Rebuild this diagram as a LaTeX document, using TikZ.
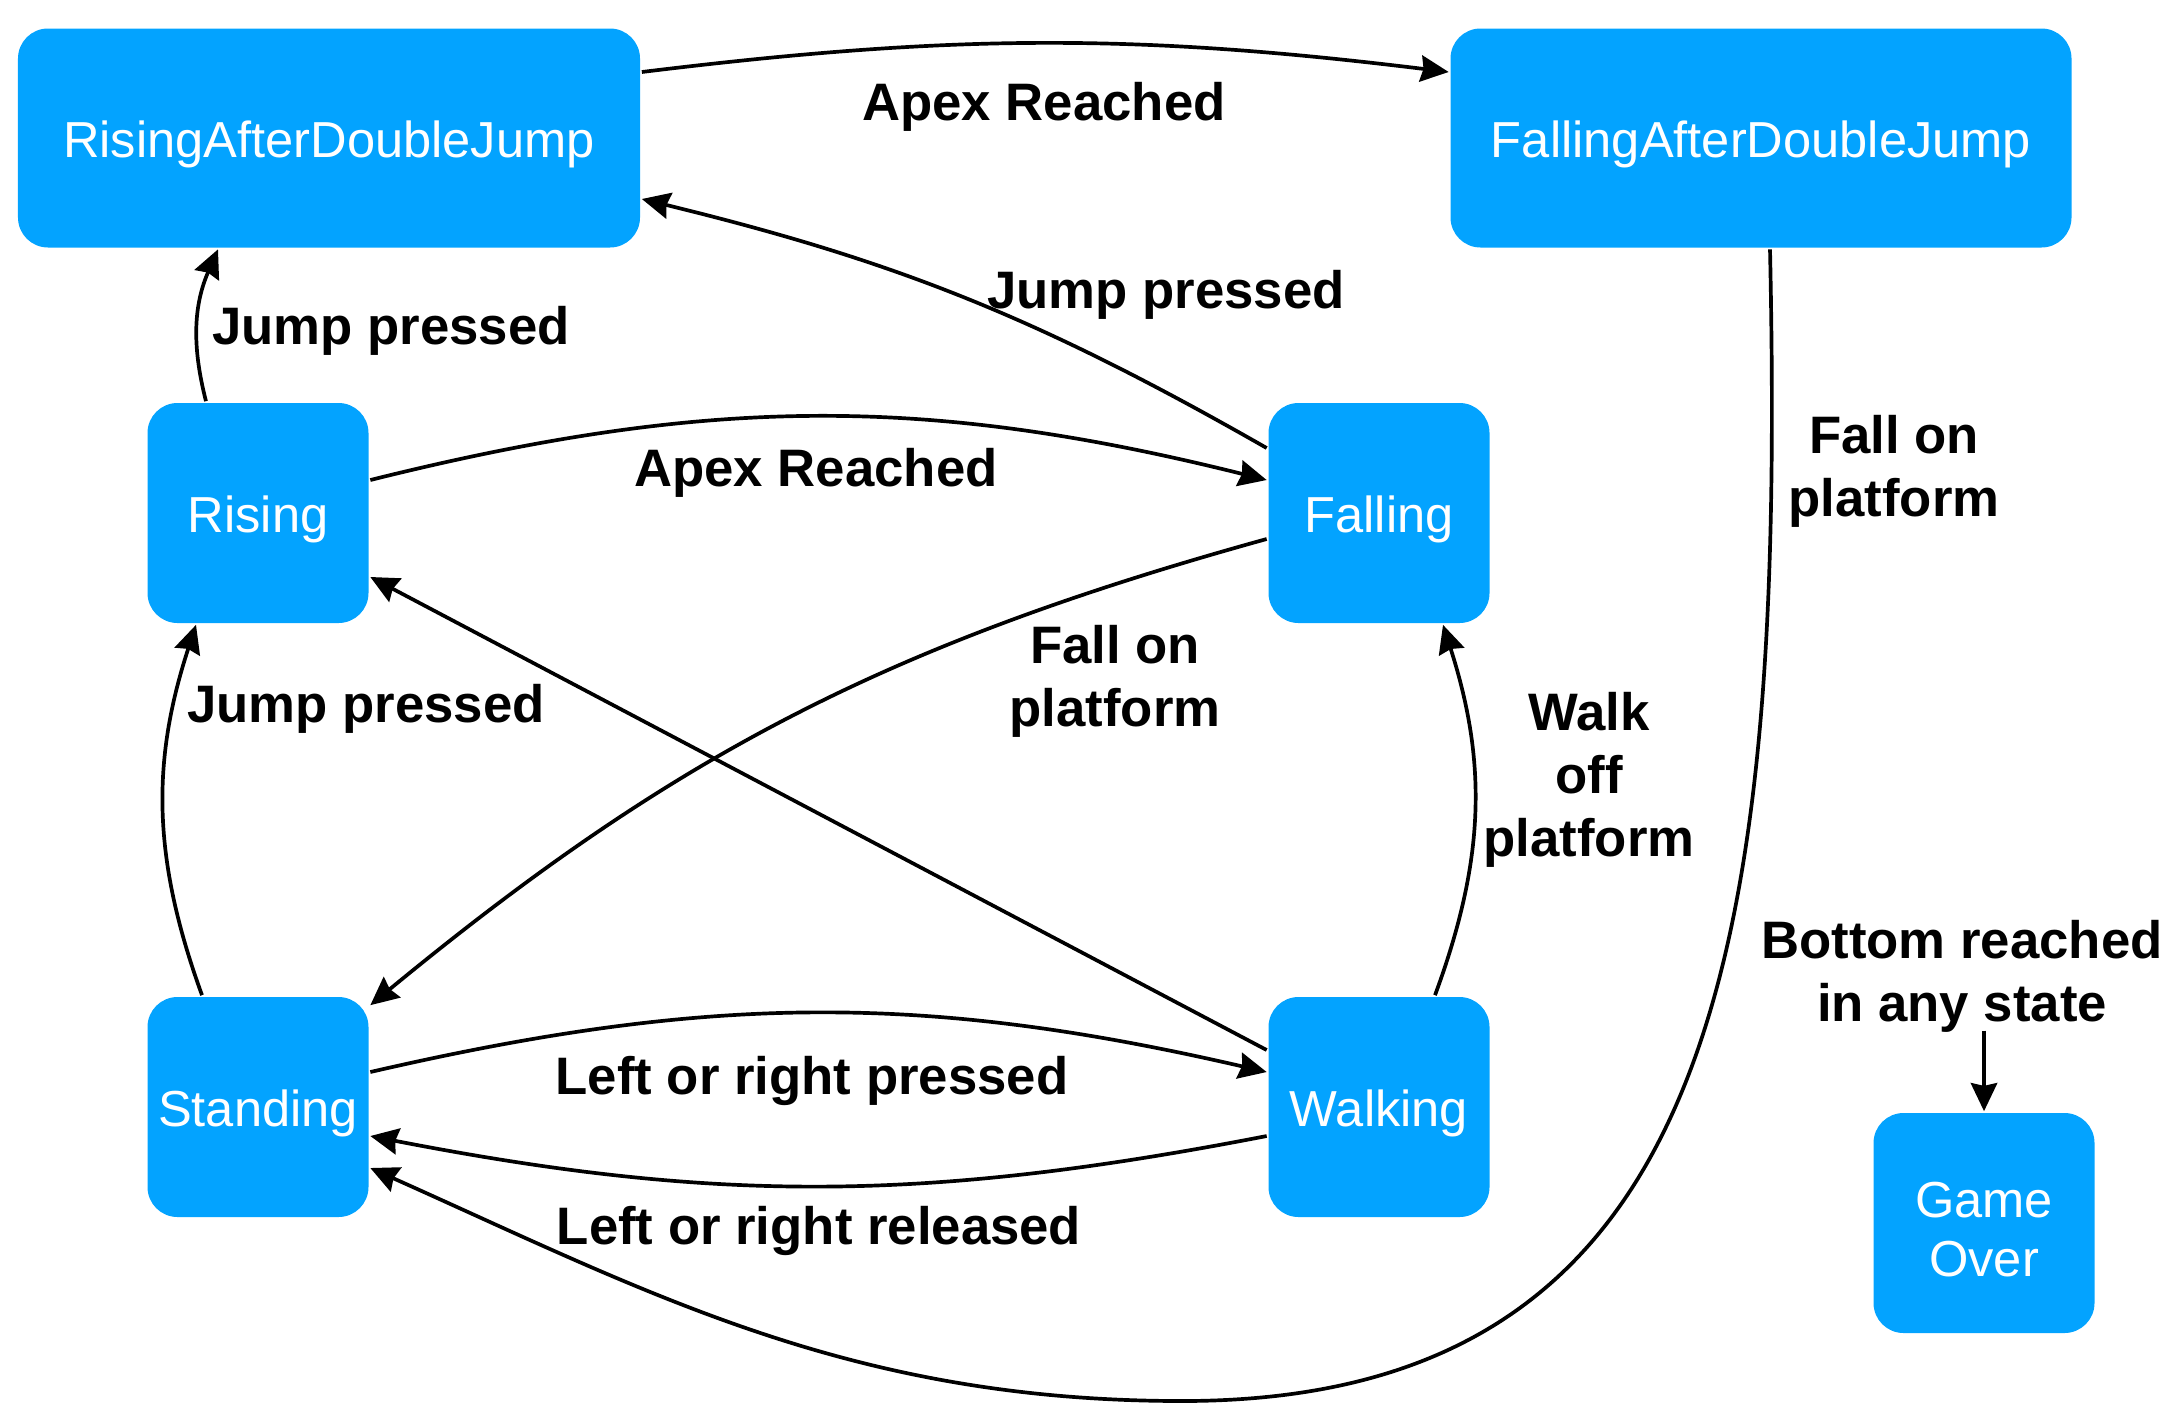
\documentclass[tikz,border=0pt]{standalone}
\usepackage{fontspec}
\setmainfont{Liberation Sans}
\usepackage{tikz}
\usetikzlibrary{positioning,arrows.meta}
\definecolor{stateblue}{RGB}{3,163,255}
\tikzset{statenode/.style={rectangle, rounded corners=0.3cm, fill=stateblue, text=white, minimum width=2.21cm, minimum height=2.2cm, inner sep=0.5mm, align=center, text height=11pt, text depth=0pt, font=\fontsize{14.4}{17}\selectfont},}
\tikzset{labelnode/.style={inner sep=1pt, align=center, font=\bfseries\fontsize{15}{18}\selectfont},}

\begin{document}
\begin{tikzpicture}[node distance=11.21cm, >={Stealth[length=8pt,width=7.5pt,inset=0.8pt]}, line width=1.05pt]
\useasboundingbox (0,0) rectangle (21.8,-14.2);
\node [statenode] (rising) at (2.58,-5.13) {Rising};
\node [statenode] (falling) [right of=rising] {Falling};
\node [statenode] (standing) [node distance=5.94cm, below of=rising] {Standing};
\node [statenode] (walking) [node distance=5.94cm, below of=falling] {Walking};
\node [statenode, minimum width=6.22cm, minimum height=2.19cm] (radj) at (3.29,-1.38) {RisingAfterDoubleJump};
\node [statenode, minimum width=6.21cm, minimum height=2.19cm] (fadj) at (17.61,-1.38) {FallingAfterDoubleJump};
\node [statenode, text height=30.7pt] (over) at (19.84,-12.23) {Game\\Over};

\node [labelnode] (apextop) at (10.44,-1.07) {Apex Reached};
\node [labelnode] (jumptop) at (3.91,-3.31) {Jump pressed};
\node [labelnode] (jumpmid) at (11.66,-2.95) {Jump pressed};
\node [labelnode] (apexmid) at (8.16,-4.73) {Apex Reached};
\node [labelnode] (fallright) at (18.94,-4.71) {Fall on\\platform};
\node [labelnode] (fallmid) at (11.15,-6.81) {Fall on\\platform};
\node [labelnode] (jumplow) at (3.66,-7.09) {Jump pressed};
\node [labelnode] (walkoff) at (15.89,-7.80) {Walk\\off\\platform};
\node [labelnode] (bottom) at (19.62,-9.76) {Bottom reached\\in any state};
\node [labelnode] (lrpressed) at (8.12,-10.81) {Left or right pressed};
\node [labelnode] (lrreleased) at (8.19,-12.31) {Left or right released};
\coordinate (low) at (11.82,-14.01);

\draw[->] ([yshift=0.66cm]radj.east) to[bend left=7] ([yshift=0.66cm]fadj.west);
\draw[->] ([xshift=0.09cm]fadj.south) .. controls (17.85,-9.5) and (17.2,-14.01) .. (low) .. controls (8.5,-14.01) and (6.5,-12.93) .. ([yshift=-0.61cm]standing.east);
\draw[->] ([xshift=-0.52cm]rising.north) to[bend left=19] ([xshift=-1.11cm]radj.south);
\draw[->] ([yshift=0.33cm]rising.east) to[bend left=14] ([yshift=0.33cm]falling.west);
\draw[->] ([yshift=0.65cm]falling.west) to[bend right=8] ([yshift=-0.61cm]radj.east);
\draw[->] ([yshift=-0.26cm]falling.west) to[bend right=12] ([yshift=-0.1cm]standing.north east);
\draw[->] ([yshift=0.57cm]walking.west) -- ([yshift=-0.64cm]rising.east);
\draw[->] ([xshift=-0.56cm]standing.north) to[bend left=19] ([xshift=-0.62cm]rising.south);
\draw[->] ([xshift=0.56cm]walking.north) to[bend right=19] ([xshift=0.64cm]falling.south);
\draw[->] ([yshift=0.35cm]standing.east) to[bend left=13] ([yshift=0.35cm]walking.west);
\draw[->] ([yshift=-0.29cm]walking.west) to[bend left=11] ([yshift=-0.29cm]standing.east);
\draw[->] ([yshift=0.07cm]bottom.south -| over.north) -- (over.north);
\end{tikzpicture}
\end{document}
